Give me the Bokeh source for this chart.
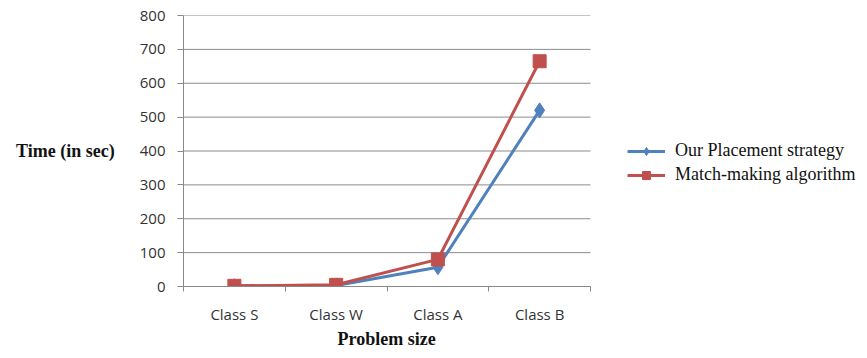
from bokeh.plotting import figure
from bokeh.models import FixedTicker, Legend, LegendItem, Range1d, ColumnDataSource, Title
from bokeh.embed import file_html
from bokeh.resources import INLINE

categories = ["Class S", "Class W", "Class A", "Class B"]
placement = [1, 3, 57, 520]
matchmaking = [2, 5, 80, 665]
y_ticks = [0, 100, 200, 300, 400, 500, 600, 700, 800]

n = len(categories)
xs = [i + 0.5 for i in range(n)]

# frame spans the legend area too; the category area takes the left 407 px
FIG_W = 866
FRAME_W = FIG_W - 183
X_END = n * FRAME_W / 407.0

p = figure(width=FIG_W, height=358, output_backend="svg", toolbar_location=None,
           x_range=Range1d(0, X_END), y_range=Range1d(0, 800),
           min_border_left=183, min_border_right=0, min_border_top=15, min_border_bottom=72)
p.outline_line_color = None
p.background_fill_color = "white"

# horizontal gridlines limited to the category area
p.segment(x0=[0] * len(y_ticks), x1=[n] * len(y_ticks), y0=y_ticks, y1=y_ticks,
          line_color="#8c8c8c", line_width=1)

src = ColumnDataSource(dict(x=xs, a=placement, b=matchmaking))
blue = "#4F81BD"
red = "#C0504D"
l1 = p.line("x", "a", source=src, line_color=blue, line_width=3)
m1 = p.scatter("x", "a", source=src, marker="diamond", size=15, fill_color=blue, line_color=blue)
l2 = p.line("x", "b", source=src, line_color=red, line_width=3)
m2 = p.scatter("x", "b", source=src, marker="square", size=13, fill_color=red, line_color=red)

# x axis
p.xaxis.bounds = (0, n)
p.xaxis.ticker = FixedTicker(ticks=xs, minor_ticks=list(range(n + 1)))
p.xaxis.major_label_overrides = {x: c for x, c in zip(xs, categories)}
p.xaxis.major_tick_out = 0
p.xaxis.major_tick_in = 0
p.xaxis.minor_tick_out = 5
p.xaxis.minor_tick_in = 0
p.xaxis.minor_tick_line_color = "#888888"
p.xaxis.axis_line_color = "#888888"
p.xaxis.major_label_text_font = "Open Sans"
p.xaxis.major_label_text_font_size = "15px"
p.xaxis.major_label_text_color = "#333333"
p.xaxis.major_label_standoff = 12
p.xgrid.grid_line_color = None
p.ygrid.grid_line_color = None

# x-axis title centred under the category area
xtitle = Title(text="Problem size", align="left", offset=154, standoff=0,
               text_font="Liberation Serif", text_font_size="18px",
               text_font_style="bold", text_color="#111111")
p.add_layout(xtitle, "below")

# y axis
p.yaxis.ticker = FixedTicker(ticks=y_ticks)
p.yaxis.minor_tick_line_color = None
p.yaxis.major_tick_out = 6
p.yaxis.major_tick_in = 0
p.yaxis.major_tick_line_color = "#888888"
p.yaxis.axis_line_color = "#888888"
p.yaxis.major_label_text_font = "Open Sans"
p.yaxis.major_label_text_font_size = "15px"
p.yaxis.major_label_text_color = "#333333"
p.yaxis.major_label_standoff = 12
p.yaxis.axis_label = "Time (in sec)"
p.yaxis.axis_label_orientation = "horizontal"
p.yaxis.axis_label_text_font = "Liberation Serif"
p.yaxis.axis_label_text_font_size = "18px"
p.yaxis.axis_label_text_font_style = "bold"
p.yaxis.axis_label_text_color = "#111111"
p.yaxis.axis_label_standoff = 22

legend = Legend(items=[LegendItem(label="Our Placement strategy", renderers=[l1, m1]),
                       LegendItem(label="Match-making algorithm", renderers=[l2, m2])],
                location=(444, 101), orientation="vertical")
legend.border_line_color = None
legend.background_fill_alpha = 0
legend.padding = 0
legend.margin = 0
legend.spacing = 3
legend.glyph_width = 38
legend.glyph_height = 20
legend.label_height = 20
legend.label_standoff = 10
legend.label_text_font = "Liberation Serif"
legend.label_text_font_size = "18px"
legend.label_text_color = "#111111"
p.add_layout(legend, "center")

open("out.html", "w").write(file_html(p, INLINE))
